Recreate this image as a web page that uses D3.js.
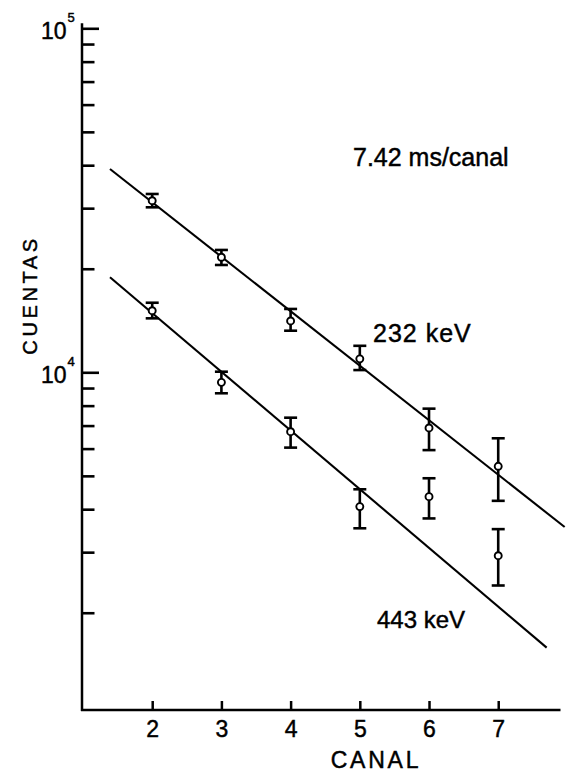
<!DOCTYPE html>
<html><head><meta charset="utf-8">
<script src="https://cdn.jsdelivr.net/npm/d3@7"></script>
<style>body{margin:0;background:#fff} svg{display:block} text{stroke:#000;stroke-width:0.45px;fill:#000}</style>
</head><body><svg id="c" width="573" height="772"></svg>
<script>
// ---- data ----
const canal = [2, 3, 4, 5, 6, 7];
const cuentas232 = [31540, 21600, 14100, 10940, 6890, 5330];
const err232Lo = [30170, 20510, 13210, 10150, 5940, 4230];
const err232Hi = [32990, 22680, 15280, 11940, 7840, 6430];
const cuentas443 = [15100, 9350, 6720, 4070, 4350, 2930];
const err443Lo = [14350, 8690, 6040, 3520, 3760, 2400];
const err443Hi = [15930, 10040, 7380, 4570, 4920, 3500];
const fitX232 = [1.39, 7.96];
const fitY232 = [38990, 3550];
const fitX443 = [1.39, 7.70];
const fitY443 = [18890, 1583];
const xTicks = [2, 3, 4, 5, 6, 7];
const yMajor = [1e4, 1e5];
const yMinor = [2000, 3000, 4000, 5000, 6000, 7000, 8000, 9000,
                20000, 30000, 40000, 50000, 60000, 70000, 80000, 90000];
const labels = {top: "7.42 ms/canal", s1: "232 keV", s2: "443 keV", xt: "CANAL", yt: "CUENTAS"};

const FONT = "'Liberation Sans', Arial, sans-serif";
const svg = d3.select("#c");
svg.append("rect").attr("width", 573).attr("height", 772).attr("fill", "#fff");

const x = d3.scaleLinear().domain([1, 7.9]).range([83, 560.5]);
const y = d3.scaleLog().domain([1043, 1e5]).range([710, 28.3]);
const X0 = 82, Y0 = 710;

// axes
const gx = svg.append("g").attr("transform", `translate(0,${Y0})`)
  .call(d3.axisBottom(x).tickValues(xTicks).tickSize(-9).tickPadding(10.5).tickFormat(d3.format("d")));
gx.select(".domain").remove();
gx.selectAll(".tick line").attr("stroke", "#000").attr("stroke-width", 2.5);
gx.selectAll(".tick text").attr("font-size", 23).attr("font-family", FONT).attr("fill", "#000");

const gyMin = svg.append("g").attr("transform", `translate(${X0},0)`)
  .call(d3.axisLeft(y).tickValues(yMinor).tickSize(-12.5).tickFormat(""));
gyMin.select(".domain").remove();
gyMin.selectAll(".tick line").attr("stroke", "#000").attr("stroke-width", 2.6);

const gyMaj = svg.append("g").attr("transform", `translate(${X0},0)`)
  .call(d3.axisLeft(y).tickValues(yMajor).tickSize(-17).tickFormat(""));
gyMaj.select(".domain").remove();
gyMaj.selectAll(".tick line").attr("stroke", "#000").attr("stroke-width", 2.6);

// axis lines
svg.append("line").attr("x1", X0).attr("x2", X0).attr("y1", y(1e5) - 5).attr("y2", Y0 + 1)
  .attr("stroke", "#000").attr("stroke-width", 2.5);
svg.append("line").attr("x1", X0 - 1).attr("x2", x.range()[1]).attr("y1", Y0).attr("y2", Y0)
  .attr("stroke", "#000").attr("stroke-width", 2.5);

// major labels 10^n
yMajor.forEach(d => {
  svg.append("text").attr("x", 66.5).attr("y", y(d) + 10.5).attr("text-anchor", "end")
    .attr("font-family", FONT).attr("font-size", 23).text("10");
  svg.append("text").attr("x", 67.5).attr("y", y(d) - 6)
    .attr("font-family", FONT).attr("font-size", 13).text(String(Math.round(Math.log10(d))));
});

// fit lines
const line = d3.line().x(d => x(d[0])).y(d => y(d[1]));
[[fitX232, fitY232], [fitX443, fitY443]].forEach(([fx, fy]) => {
  svg.append("path").attr("d", line(fx.map((v, i) => [v, fy[i]])))
    .attr("fill", "none").attr("stroke", "#000").attr("stroke-width", 2.1);
});

// error bars + points
function series(vals, lo, hi) {
  const g = svg.append("g");
  canal.forEach((c, i) => {
    const cx = x(c);
    g.append("line").attr("x1", cx).attr("x2", cx).attr("y1", y(lo[i])).attr("y2", y(hi[i]))
      .attr("stroke", "#000").attr("stroke-width", 2.6);
    [lo[i], hi[i]].forEach(v => {
      g.append("line").attr("x1", cx - 6.5).attr("x2", cx + 6.5).attr("y1", y(v)).attr("y2", y(v))
        .attr("stroke", "#000").attr("stroke-width", 2.6);
    });
    g.append("circle").attr("cx", cx).attr("cy", y(vals[i])).attr("r", 3.5)
      .attr("fill", "#fff").attr("stroke", "#000").attr("stroke-width", 1.9);
  });
}
series(cuentas232, err232Lo, err232Hi);
series(cuentas443, err443Lo, err443Hi);

// annotations
svg.append("text").attr("x", 353).attr("y", 166).attr("font-family", FONT).attr("font-size", 25).text(labels.top);
svg.append("text").attr("x", 373).attr("y", 342).attr("font-family", FONT).attr("font-size", 25)
  .attr("letter-spacing", 1).text(labels.s1);
svg.append("text").attr("x", 377).attr("y", 628).attr("font-family", FONT).attr("font-size", 24).text(labels.s2);

// axis titles
svg.append("text").attr("x", 376).attr("y", 768).attr("text-anchor", "middle")
  .attr("font-family", FONT).attr("font-size", 23).attr("letter-spacing", 2.8).text(labels.xt);
svg.append("text").attr("transform", "translate(37,295) rotate(-90)").attr("text-anchor", "middle")
  .attr("font-family", FONT).attr("font-size", 20).attr("letter-spacing", 3.6).text(labels.yt);
</script></body></html>
